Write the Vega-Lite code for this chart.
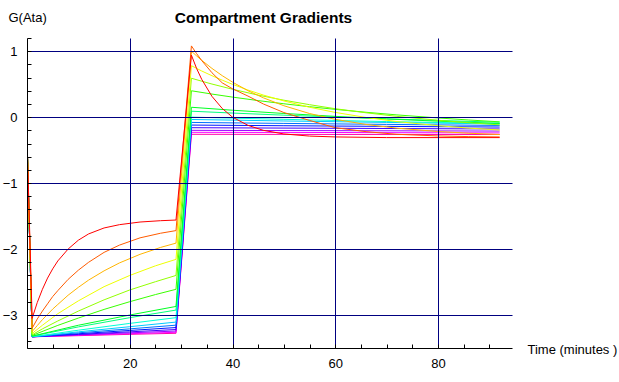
{
"$schema": "https://vega.github.io/schema/vega-lite/v6.json",
"width": 485, "height": 310,
"autosize": "none",
"padding": {"left": 27, "top": 38, "right": 107, "bottom": 34},
"background": "white",
"title": {"text": "Compartment Gradients", "font": "Liberation Sans", "fontSize": 15.5, "fontWeight": "bold", "anchor": "middle", "frame": "group", "offset": -15, "dx": -6, "color": "black"},
"config": {"view": {"stroke": null}},
"data": {"values": [
{"k":16,"t":0,"g":-0.31},{"k":16,"t":1,"g":-3.33},{"k":16,"t":10,"g":-3.313},{"k":16,"t":20,"g":-3.293},{"k":16,"t":29,"g":-3.277},{"k":16,"t":32,"g":-0.26},{"k":16,"t":60,"g":-0.262},{"k":16,"t":92,"g":-0.263},
{"k":15,"t":0,"g":-0.31},{"k":15,"t":1,"g":-3.33},{"k":15,"t":10,"g":-3.308},{"k":15,"t":20,"g":-3.283},{"k":15,"t":29,"g":-3.262},{"k":15,"t":32,"g":-0.23},{"k":15,"t":60,"g":-0.233},{"k":15,"t":92,"g":-0.239},
{"k":14,"t":0,"g":-0.31},{"k":14,"t":1,"g":-3.33},{"k":14,"t":10,"g":-3.30},{"k":14,"t":20,"g":-3.27},{"k":14,"t":29,"g":-3.243},{"k":14,"t":32,"g":-0.20},{"k":14,"t":60,"g":-0.205},{"k":14,"t":92,"g":-0.211},
{"k":13,"t":0,"g":-0.31},{"k":13,"t":1,"g":-3.33},{"k":13,"t":10,"g":-3.294},{"k":13,"t":20,"g":-3.255},{"k":13,"t":29,"g":-3.22},{"k":13,"t":32,"g":-0.16},{"k":13,"t":60,"g":-0.169},{"k":13,"t":92,"g":-0.179},
{"k":12,"t":0,"g":-0.31},{"k":12,"t":1,"g":-3.33},{"k":12,"t":10,"g":-3.284},{"k":12,"t":20,"g":-3.234},{"k":12,"t":29,"g":-3.19},{"k":12,"t":32,"g":-0.12},{"k":12,"t":50,"g":-0.13},{"k":12,"t":70,"g":-0.14},{"k":12,"t":92,"g":-0.15},
{"k":11,"t":0,"g":-0.31},{"k":11,"t":1,"g":-3.33},{"k":11,"t":10,"g":-3.27},{"k":11,"t":20,"g":-3.21},{"k":11,"t":29,"g":-3.154},{"k":11,"t":32,"g":-0.08},{"k":11,"t":50,"g":-0.095},{"k":11,"t":70,"g":-0.11},{"k":11,"t":92,"g":-0.126},
{"k":10,"t":0,"g":-0.31},{"k":10,"t":1,"g":-3.33},{"k":10,"t":10,"g":-3.255},{"k":10,"t":20,"g":-3.177},{"k":10,"t":29,"g":-3.107},{"k":10,"t":32,"g":-0.035},{"k":10,"t":50,"g":-0.058},{"k":10,"t":70,"g":-0.08},{"k":10,"t":92,"g":-0.103},
{"k":9,"t":0,"g":-0.31},{"k":9,"t":1,"g":-3.33},{"k":9,"t":10,"g":-3.23},{"k":9,"t":20,"g":-3.127},{"k":9,"t":29,"g":-3.04},{"k":9,"t":32,"g":0.0},{"k":9,"t":50,"g":-0.033},{"k":9,"t":70,"g":-0.067},{"k":9,"t":92,"g":-0.098},
{"k":8,"t":0,"g":-0.31},{"k":8,"t":1,"g":-3.32},{"k":8,"t":10,"g":-3.18},{"k":8,"t":20,"g":-3.04},{"k":8,"t":29,"g":-2.925},{"k":8,"t":32,"g":0.09},{"k":8,"t":40,"g":0.062},{"k":8,"t":50,"g":0.03},{"k":8,"t":60,"g":0.001},{"k":8,"t":70,"g":-0.026},{"k":8,"t":80,"g":-0.05},{"k":8,"t":92,"g":-0.077},
{"k":7,"t":0,"g":-0.31},{"k":7,"t":1,"g":-3.32},{"k":7,"t":10,"g":-3.155},{"k":7,"t":20,"g":-3.0},{"k":7,"t":29,"g":-2.87},{"k":7,"t":32,"g":0.15},{"k":7,"t":40,"g":0.105},{"k":7,"t":50,"g":0.056},{"k":7,"t":60,"g":0.012},{"k":7,"t":70,"g":-0.027},{"k":7,"t":80,"g":-0.061},{"k":7,"t":92,"g":-0.096},
{"k":6,"t":0,"g":-0.31},{"k":6,"t":1,"g":-3.31},{"k":6,"t":6,"g":-3.157},{"k":6,"t":10,"g":-3.046},{"k":6,"t":15,"g":-2.915},{"k":6,"t":20,"g":-2.798},{"k":6,"t":25,"g":-2.69},{"k":6,"t":29,"g":-2.61},{"k":6,"t":32,"g":0.40},{"k":6,"t":36,"g":0.35},{"k":6,"t":40,"g":0.304},{"k":6,"t":45,"g":0.251},{"k":6,"t":50,"g":0.203},{"k":6,"t":55,"g":0.158},{"k":6,"t":60,"g":0.118},{"k":6,"t":66,"g":0.074},{"k":6,"t":72,"g":0.034},{"k":6,"t":80,"g":-0.012},{"k":6,"t":86,"g":-0.043},{"k":6,"t":92,"g":-0.071},
{"k":5,"t":0,"g":-0.31},{"k":5,"t":1,"g":-3.30},{"k":5,"t":3,"g":-3.21},{"k":5,"t":6,"g":-3.09},{"k":5,"t":10,"g":-2.94},{"k":5,"t":15,"g":-2.77},{"k":5,"t":20,"g":-2.62},{"k":5,"t":25,"g":-2.495},{"k":5,"t":29,"g":-2.40},{"k":5,"t":32,"g":0.59},{"k":5,"t":34,"g":0.545},{"k":5,"t":36,"g":0.502},{"k":5,"t":40,"g":0.423},{"k":5,"t":45,"g":0.334},{"k":5,"t":50,"g":0.257},{"k":5,"t":55,"g":0.189},{"k":5,"t":60,"g":0.128},{"k":5,"t":66,"g":0.066},{"k":5,"t":72,"g":0.012},{"k":5,"t":80,"g":-0.047},{"k":5,"t":86,"g":-0.085},{"k":5,"t":92,"g":-0.117},
{"k":4,"t":0,"g":-0.31},{"k":4,"t":1,"g":-3.28},{"k":4,"t":3,"g":-3.155},{"k":4,"t":6,"g":-2.98},{"k":4,"t":10,"g":-2.785},{"k":4,"t":15,"g":-2.57},{"k":4,"t":20,"g":-2.40},{"k":4,"t":25,"g":-2.254},{"k":4,"t":29,"g":-2.156},{"k":4,"t":32,"g":0.78},{"k":4,"t":34,"g":0.70},{"k":4,"t":36,"g":0.628},{"k":4,"t":38,"g":0.561},{"k":4,"t":40,"g":0.498},{"k":4,"t":43,"g":0.411},{"k":4,"t":46,"g":0.335},{"k":4,"t":50,"g":0.246},{"k":4,"t":55,"g":0.15},{"k":4,"t":60,"g":0.072},{"k":4,"t":66,"g":-0.005},{"k":4,"t":72,"g":-0.067},{"k":4,"t":80,"g":-0.129},{"k":4,"t":86,"g":-0.166},{"k":4,"t":92,"g":-0.195},
{"k":3,"t":0,"g":-0.31},{"k":3,"t":1,"g":-3.25},{"k":3,"t":2,"g":-3.16},{"k":3,"t":3,"g":-3.07},{"k":3,"t":4,"g":-2.99},{"k":3,"t":5,"g":-2.91},{"k":3,"t":6,"g":-2.84},{"k":3,"t":8,"g":-2.70},{"k":3,"t":10,"g":-2.58},{"k":3,"t":12,"g":-2.47},{"k":3,"t":15,"g":-2.33},{"k":3,"t":18,"g":-2.21},{"k":3,"t":22,"g":-2.08},{"k":3,"t":26,"g":-1.975},{"k":3,"t":29,"g":-1.91},{"k":3,"t":32,"g":1.00},{"k":3,"t":33,"g":0.929},{"k":3,"t":34,"g":0.862},{"k":3,"t":36,"g":0.739},{"k":3,"t":38,"g":0.629},{"k":3,"t":40,"g":0.531},{"k":3,"t":43,"g":0.401},{"k":3,"t":46,"g":0.293},{"k":3,"t":50,"g":0.173},{"k":3,"t":55,"g":0.055},{"k":3,"t":60,"g":-0.033},{"k":3,"t":66,"g":-0.111},{"k":3,"t":72,"g":-0.167},{"k":3,"t":80,"g":-0.218},{"k":3,"t":86,"g":-0.244},{"k":3,"t":92,"g":-0.263},
{"k":2,"t":0,"g":-0.31},{"k":2,"t":1,"g":-3.20},{"k":2,"t":2,"g":-3.06},{"k":2,"t":3,"g":-2.94},{"k":2,"t":4,"g":-2.83},{"k":2,"t":5,"g":-2.72},{"k":2,"t":6,"g":-2.63},{"k":2,"t":8,"g":-2.46},{"k":2,"t":10,"g":-2.32},{"k":2,"t":12,"g":-2.20},{"k":2,"t":15,"g":-2.05},{"k":2,"t":18,"g":-1.94},{"k":2,"t":22,"g":-1.83},{"k":2,"t":26,"g":-1.76},{"k":2,"t":29,"g":-1.72},{"k":2,"t":32,"g":1.08},{"k":2,"t":33,"g":0.965},{"k":2,"t":34,"g":0.859},{"k":2,"t":36,"g":0.673},{"k":2,"t":38,"g":0.52},{"k":2,"t":40,"g":0.43},{"k":2,"t":43,"g":0.32},{"k":2,"t":46,"g":0.20},{"k":2,"t":50,"g":0.07},{"k":2,"t":55,"g":-0.05},{"k":2,"t":60,"g":-0.16},{"k":2,"t":66,"g":-0.22},{"k":2,"t":72,"g":-0.26},{"k":2,"t":80,"g":-0.285},{"k":2,"t":86,"g":-0.295},{"k":2,"t":92,"g":-0.30},
{"k":1,"t":0,"g":-0.31},{"k":1,"t":1,"g":-3.05},{"k":1,"t":2,"g":-2.81},{"k":1,"t":3,"g":-2.61},{"k":1,"t":4,"g":-2.44},{"k":1,"t":5,"g":-2.30},{"k":1,"t":6,"g":-2.18},{"k":1,"t":8,"g":-2.0},{"k":1,"t":10,"g":-1.865},{"k":1,"t":12,"g":-1.77},{"k":1,"t":15,"g":-1.68},{"k":1,"t":18,"g":-1.63},{"k":1,"t":22,"g":-1.59},{"k":1,"t":26,"g":-1.57},{"k":1,"t":29,"g":-1.56},{"k":1,"t":32,"g":0.94},{"k":1,"t":33,"g":0.74},{"k":1,"t":34,"g":0.574},{"k":1,"t":36,"g":0.315},{"k":1,"t":38,"g":0.132},{"k":1,"t":40,"g":0.0},{"k":1,"t":43,"g":-0.124},{"k":1,"t":46,"g":-0.20},{"k":1,"t":50,"g":-0.255},{"k":1,"t":55,"g":-0.287},{"k":1,"t":60,"g":-0.30},{"k":1,"t":70,"g":-0.31},{"k":1,"t":92,"g":-0.31}
]},
"mark": {"type": "line", "strokeWidth": 1, "clip": true},
"encoding": {
 "x": {"field": "t", "type": "quantitative", "scale": {"domain": [0, 94.4], "nice": false, "zero": false},
   "axis": {"title": "Time (minutes )", "values": [0,5,10,15,20,25,30,35,40,45,50,55,60,65,70,75,80,85,90],
     "labelExpr": "datum.value % 20 == 0 && datum.value > 0 ? datum.label : ''",
     "grid": true, "gridColor": "#000080", "gridWidth": 1,
     "gridOpacity": {"condition": {"test": "datum.value % 20 == 0 && datum.value > 0", "value": 1}, "value": 0},
     "zindex": 1, "domainColor": "black", "tickColor": "black", "tickSize": -4, "labelPadding": 13,
     "labelFont": "Liberation Sans", "labelFontSize": 13, "labelColor": "black", "labelFlush": false, "labelOverlap": false,
     "titleFont": "Liberation Sans", "titleFontSize": 13, "titleFontWeight": "normal", "titleColor": "black",
     "titleAlign": "left", "titleBaseline": "middle", "titleX": 500, "titleY": 1, "titleAnchor": null}},
 "y": {"field": "g", "type": "quantitative", "scale": {"domain": [-3.5, 1.2], "nice": false, "zero": false},
   "axis": {"title": "G(Ata)", "values": [-3.4,-3.2,-3,-2.8,-2.6,-2.4,-2.2,-2,-1.8,-1.6,-1.4,-1.2,-1,-0.8,-0.6,-0.4,-0.2,0,0.2,0.4,0.6,0.8,1,1.2],
     "labelExpr": "abs(datum.value - round(datum.value)) < 0.01 ? format(round(datum.value), 'd') : ''",
     "grid": true, "gridColor": "#000080", "gridWidth": 1,
     "gridOpacity": {"condition": {"test": "abs(datum.value - round(datum.value)) < 0.01", "value": 1}, "value": 0},
     "zindex": 1, "domainColor": "black", "tickColor": "black", "tickSize": -4, "labelPadding": 14,
     "labelFont": "Liberation Sans", "labelFontSize": 13, "labelColor": "black", "labelFlush": false, "labelOverlap": false,
     "titleFont": "Liberation Sans", "titleFontSize": 13, "titleFontWeight": "normal", "titleColor": "black",
     "titleAngle": 0, "titleAlign": "left", "titleBaseline": "middle", "titleX": -19, "titleY": -21, "titleAnchor": null}},
 "color": {"field": "k", "type": "nominal", "legend": null,
   "scale": {"domain": [1,2,3,4,5,6,7,8,9,10,11,12,13,14,15,16],
     "range": ["#ff0000","#ff5b00","#ffb500","#eeff00","#93ff00","#39ff00","#00ff22","#00ff7d","#00ffd7","#00ccff","#0071ff","#0017ff","#4400ff","#9f00ff","#f900ff","#ff00aa"]}}
}
}
